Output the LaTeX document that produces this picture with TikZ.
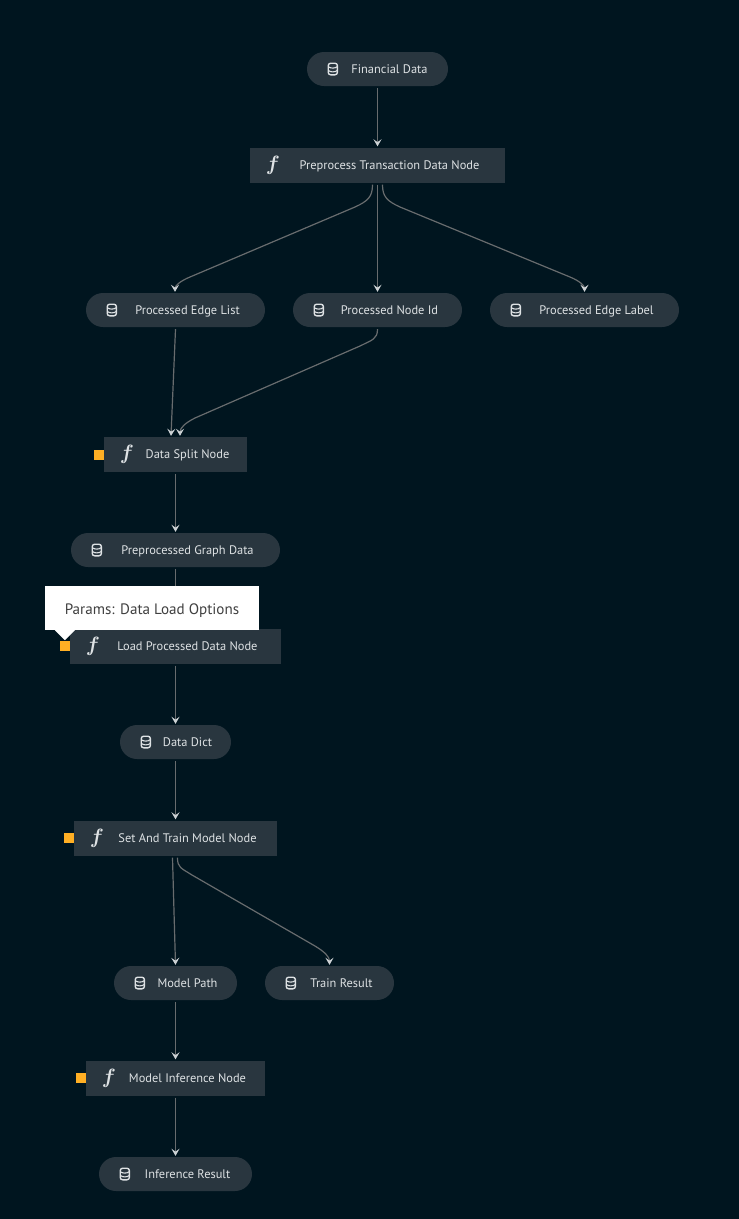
\documentclass[tikz,border=0pt]{standalone}
\usepackage{fontspec}
\setmainfont{PT Sans}
\usetikzlibrary{arrows.meta,positioning}

\definecolor{flow_bg}{RGB}{0,21,31}
\definecolor{flow_box}{RGB}{41,54,63}
\definecolor{flow_text}{RGB}{222,226,228}
\definecolor{flow_line}{RGB}{104,108,110}
\definecolor{flow_tip}{RGB}{205,210,213}
\definecolor{flow_param}{RGB}{255,175,36}

\tikzset{
    databox/.style={shape=rectangle,fill=flow_box,rounded corners=17pt,minimum height=34pt,inner sep=0pt,text=flow_text,
        text height=9pt,text depth=1pt,font=\fontsize{12.4}{13}\selectfont,execute at begin node={\hspace*{24pt}}},
    taskbox/.style={databox,rounded corners=0pt,minimum height=35pt},
    fnicon/.style={text=flow_text,inner sep=0pt,font=\fontsize{20}{20}\selectfont\boldmath},
    paramdot/.style={shape=rectangle,fill=flow_param,minimum size=10pt,inner sep=0pt},
    flow/.style={draw=flow_line,line width=1.2pt,-{Stealth[length=7pt,width=8pt,inset=2.8pt,color=flow_tip]}},
    dbicon/.pic={
        \draw[flow_text,line width=1.4pt,rounded corners=2.5pt] (-4.6,-5.8) rectangle (4.6,5.8);
        \draw[flow_text,line width=1.1pt] (-4.6,-2.4) .. controls (-2,-0.4) and (2,-0.4) .. (4.6,-2.4);
        \draw[flow_text,line width=1.1pt] (-4.6,1.4) .. controls (-2,3.4) and (2,3.4) .. (4.6,1.4);
    },
}

\begin{document}
\begin{tikzpicture}[x=1pt,y=-1pt]
    \fill[flow_bg] (0,0) rectangle (739,1219);
    \useasboundingbox (0,0) rectangle (739,1219);

    % data nodes
    \node[databox,minimum width=141pt] (financial) at (377.5,69) {Financial Data};
    \node[databox,minimum width=179pt] (edgelist)  at (175.5,310) {Processed Edge List};
    \node[databox,minimum width=169pt] (nodeid)    at (377.5,310) {Processed Node Id};
    \node[databox,minimum width=189pt] (edgelabel) at (584.5,310) {Processed Edge Label};
    \node[databox,minimum width=209pt] (graphdata) at (175.5,550) {Preprocessed Graph Data};
    \node[databox,minimum width=111pt] (datadict)  at (175.5,742) {Data Dict};
    \node[databox,minimum width=123pt] (modelpath) at (175.5,983) {Model Path};
    \node[databox,minimum width=129pt] (trainres)  at (329.5,983) {Train Result};
    \node[databox,minimum width=153pt] (infres)    at (175.5,1174) {Inference Result};

    % task nodes
    \node[taskbox,minimum width=255pt] (preprocess) at (377.5,165) {Preprocess Transaction Data Node};
    \node[taskbox,minimum width=143pt] (split)      at (175.5,454.5) {Data Split Node};
    \node[taskbox,minimum width=211pt] (load)       at (175.5,646) {Load Processed Data Node};
    \node[taskbox,minimum width=203pt] (train)      at (175.5,838) {Set And Train Model Node};
    \node[taskbox,minimum width=179pt] (inference)  at (175.5,1078) {Model Inference Node};

    \foreach \n in {financial,edgelist,nodeid,edgelabel,graphdata,datadict,modelpath,trainres,infres}
        \pic at ([xshift=26pt]\n.west) {dbicon};
    \foreach \n in {preprocess,split,load,train,inference}
        \node[fnicon] (f\n) at ([xshift=23pt]\n.west) {$f$};

    \node[paramdot,left=0pt of split]     (psplit) {};
    \node[paramdot,left=0pt of load]      (pload) {};
    \node[paramdot,left=0pt of train]     (ptrain) {};
    \node[paramdot,left=0pt of inference] (pinference) {};

    % edges
    \draw[flow] ([yshift=-2pt]financial.south) -- ([yshift=1pt]preprocess.north);
    \draw[flow] ([xshift=-5pt,yshift=-2pt]preprocess.south) .. controls +(0,12) and (368,201) .. (355,207) -- (190,277) .. controls (180,281) and (175,286) .. ([xshift=-0.5pt,yshift=1pt]edgelist.north);
    \draw[flow] ([yshift=-2pt]preprocess.south) -- ([yshift=1pt]nodeid.north);
    \draw[flow] ([xshift=5pt,yshift=-2pt]preprocess.south) .. controls +(0,12) and (387,201) .. (400,207) -- (570,277) .. controls (580,281) and (584.5,286) .. ([yshift=1pt]edgelabel.north);
    \draw[flow] ([yshift=-2pt]edgelist.south) -- ([xshift=-4.5pt,yshift=1pt]split.north);
    \draw[flow] ([yshift=-2pt]nodeid.south) .. controls +(0,10) and (372,340) .. (360,346) -- (195,418) .. controls (185,423) and (180,428) .. ([xshift=4.5pt,yshift=1pt]split.north);
    \draw[flow] ([yshift=-2pt]split.south) -- ([yshift=1pt]graphdata.north);
    \draw[flow] ([yshift=-2pt]graphdata.south) -- ([yshift=1pt]load.north);
    \draw[flow] ([yshift=-2pt]load.south) -- ([yshift=1pt]datadict.north);
    \draw[flow] ([yshift=-2pt]datadict.south) -- ([yshift=1pt]train.north);
    \draw[flow] ([xshift=-3pt,yshift=-2pt]train.south) -- ([yshift=1pt]modelpath.north);
    \draw[flow] ([xshift=2pt,yshift=-2pt]train.south) .. controls +(0,10) and (181,868) .. (192,875) -- (315,946) .. controls (325,952) and (329.5,957) .. ([yshift=1pt]trainres.north);
    \draw[flow] ([yshift=-2pt]modelpath.south) -- ([yshift=1pt]inference.north);
    \draw[flow] ([yshift=-2pt]inference.south) -- ([yshift=1pt]infres.north);

    % tooltip on top
    \node[shape=rectangle,fill=white,minimum width=214pt,minimum height=44pt,inner sep=0pt,text=black!75,text height=13pt,text depth=1pt,font=\fontsize{15.1}{18}\selectfont] (params) at (152,608) {Params: Data Load Options};
    \fill[white] ([xshift=10pt]params.south west) -- ([xshift=30pt]params.south west) -- ([xshift=20pt,yshift=-10pt]params.south west) -- cycle;
\end{tikzpicture}
\end{document}
